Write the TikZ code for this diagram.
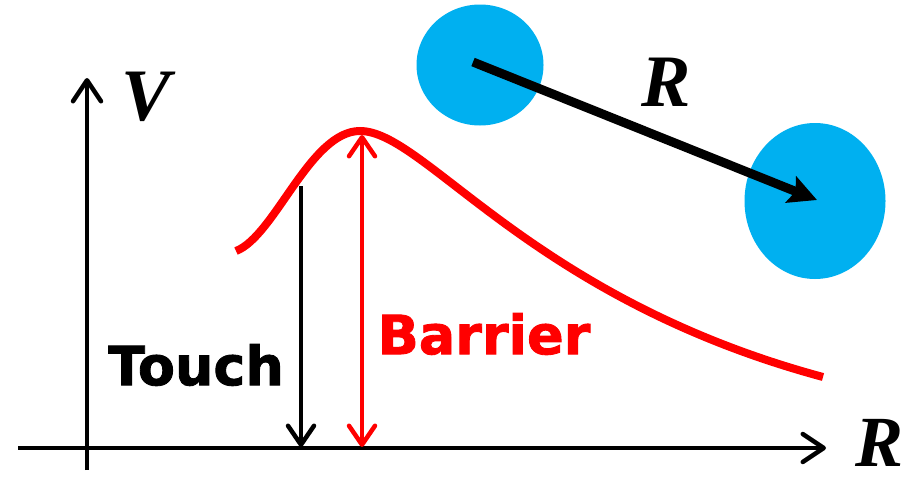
\documentclass[tikz,border=0pt]{standalone}
\usepackage{fontspec}
\setmainfont{Liberation Serif}
\newfontfamily\heavyfont{DejaVu Sans Bold}[FakeBold=1.6]
\usetikzlibrary{arrows.meta,shapes.geometric}
\definecolor{ballblue}{HTML}{00B0F0}
\tikzset{
  axisline/.style={line width=4.5pt,black,-{Straight Barb[length=21pt,width=28pt,line cap=round,line join=round]}},
  touchline/.style={line width=4.5pt,black,-{Straight Barb[length=19pt,width=26pt,line cap=round,line join=round]}},
  barrierline/.style={line width=4.5pt,red,{Straight Barb[length=19pt,width=26pt,line cap=round,line join=round]}-{Straight Barb[length=19pt,width=26pt,line cap=round,line join=round]}},
  ball/.style={ellipse,fill=ballblue,draw=none,inner sep=0pt},
  bigletter/.style={font=\fontsize{74}{74}\selectfont\bfseries\itshape,inner sep=0pt},
  heavylabel/.style={font=\heavyfont\fontsize{54}{54}\selectfont,inner sep=0pt},
  distarrow/.style={line width=9pt,black,-{Stealth[length=28pt,width=28pt,inset=5pt]}}
}
\begin{document}
\begin{tikzpicture}[x=1pt,y=-1pt]
\useasboundingbox[fill=white] (0,0) rectangle (912,479);
% balls
\node[ball,minimum width=127pt,minimum height=121pt] (b1) at (480,65) {};
\node[ball,minimum width=141pt,minimum height=156pt] (b2) at (815,201) {};
\coordinate (r0) at (473,62);
\coordinate (r1) at (817,200);
\draw[distarrow] (r0) -- (r1);
\node[bigletter] (rtop) at (666,82) {R};
% axes
\coordinate (o1) at (87,470);
\coordinate (vtip) at (87,78);
\coordinate (h0) at (18,448);
\coordinate (htip) at (826,448);
\draw[axisline] (o1) -- (vtip);
\draw[axisline] (h0) -- (htip);
\node[bigletter] (vlab) at (146,97) {V};
\node[bigletter,font=\fontsize{72}{72}\selectfont\bfseries\itshape] (rlab) at (879,443) {R};
% curve
\coordinate (c0) at (236,251);
\coordinate (cpeak) at (360,131);
\coordinate (cend) at (823,377);
\draw[red,line width=8pt,line cap=butt] (c0) .. controls (275,236) and (310,131) .. (cpeak)
  .. controls (425,131) and (530,298) .. (cend);
% touch and barrier arrows
\coordinate (t0) at (301,186);
\coordinate (t1) at (301,447);
\draw[touchline] (t0) -- (t1);
\coordinate (p0) at (362,447);
\coordinate (p1) at (362,135);
\draw[barrierline] (p0) -- (p1);
\node[heavylabel] (touch) at (196,365) {Touch};
\node[heavylabel,text=red] (barrier) at (484,334) {Barrier};
\end{tikzpicture}
\end{document}
